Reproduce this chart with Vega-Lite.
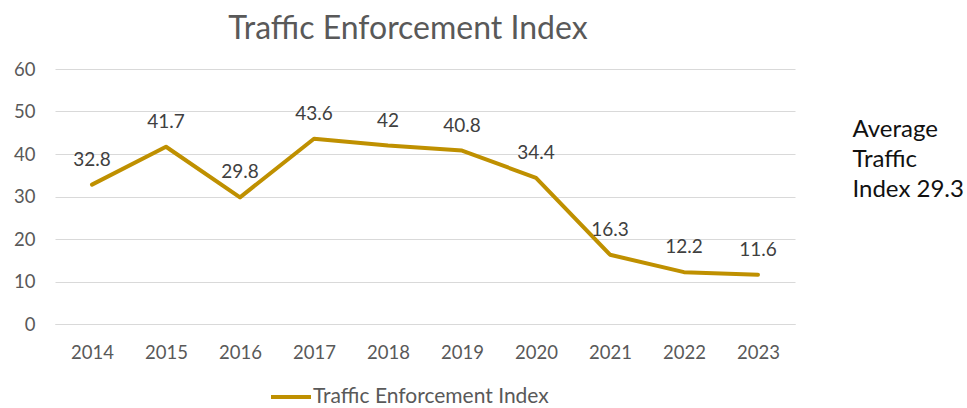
{
  "$schema": "https://vega.github.io/schema/vega-lite/v6.json",
  "width": 740,
  "height": 255,
  "autosize": {"type": "none"},
  "padding": {"left": 55, "top": 69, "right": 172, "bottom": 84},
  "background": "white",
  "title": {
    "text": "Traffic Enforcement Index",
    "fontSize": 32,
    "font": "Lato",
    "fontWeight": "normal",
    "color": "#595959",
    "anchor": "middle",
    "dx": -17,
    "offset": 14
  },
  "config": {
    "view": {"stroke": null},
    "font": "Lato"
  },
  "data": {
    "values": [
      {"year": "2014", "value": 32.8, "series": "Traffic Enforcement Index"},
      {"year": "2015", "value": 41.7, "series": "Traffic Enforcement Index"},
      {"year": "2016", "value": 29.8, "series": "Traffic Enforcement Index"},
      {"year": "2017", "value": 43.6, "series": "Traffic Enforcement Index"},
      {"year": "2018", "value": 42, "series": "Traffic Enforcement Index"},
      {"year": "2019", "value": 40.8, "series": "Traffic Enforcement Index"},
      {"year": "2020", "value": 34.4, "series": "Traffic Enforcement Index"},
      {"year": "2021", "value": 16.3, "series": "Traffic Enforcement Index"},
      {"year": "2022", "value": 12.2, "series": "Traffic Enforcement Index"},
      {"year": "2023", "value": 11.6, "series": "Traffic Enforcement Index"}
    ]
  },
  "encoding": {
    "x": {
      "field": "year",
      "type": "ordinal",
      "scale": {"type": "point", "padding": 0.5},
      "axis": {
        "title": null,
        "labelAngle": 0,
        "labelFontSize": 18.5,
        "labelColor": "#595959",
        "labelPadding": 19,
        "ticks": false,
        "domain": true,
        "domainColor": "#d9d9d9",
        "grid": false
      }
    }
  },
  "layer": [
    {
      "mark": {"type": "line", "strokeWidth": 4, "strokeCap": "round", "strokeJoin": "round"},
      "encoding": {
        "y": {
          "field": "value",
          "type": "quantitative",
          "scale": {"domain": [0, 60], "nice": false},
          "axis": {
            "title": null,
            "values": [0, 10, 20, 30, 40, 50, 60],
            "labelFontSize": 18.5,
            "labelColor": "#595959",
            "labelPadding": 20,
            "labelOverlap": false,
            "ticks": false,
            "domain": false,
            "grid": true,
            "gridColor": "#d9d9d9",
            "gridWidth": 1
          }
        },
        "color": {
          "field": "series",
          "type": "nominal",
          "scale": {"range": ["#BF9000"]},
          "legend": {
            "title": null,
            "orient": "none",
            "legendX": 214,
            "legendY": 306,
            "symbolType": "stroke",
            "symbolSize": 1600,
            "symbolStrokeWidth": 4,
            "labelFontSize": 21,
            "labelColor": "#595959",
            "labelOffset": 0,
            "labelLimit": 500
          }
        }
      }
    },
    {
      "mark": {"type": "text", "fontSize": 19, "color": "#404040", "dy": -25, "baseline": "middle"},
      "encoding": {
        "y": {
          "field": "value",
          "type": "quantitative",
          "scale": {"domain": [0, 60], "nice": false},
          "axis": {
            "orient": "right",
            "labels": false,
            "ticks": false,
            "domain": false,
            "grid": false,
            "title": ["Average", "Traffic", "Index 29.3"],
            "titleAngle": 0,
            "titleAlign": "left",
            "titleBaseline": "top",
            "titleFontSize": 24,
            "titleFontWeight": "normal",
            "titleColor": "#111111",
            "titleLineHeight": 30,
            "titleX": 57,
            "titleY": 48
          }
        },
        "text": {"field": "value", "type": "quantitative"}
      }
    }
  ],
  "resolve": {"scale": {"y": "independent"}}
}
